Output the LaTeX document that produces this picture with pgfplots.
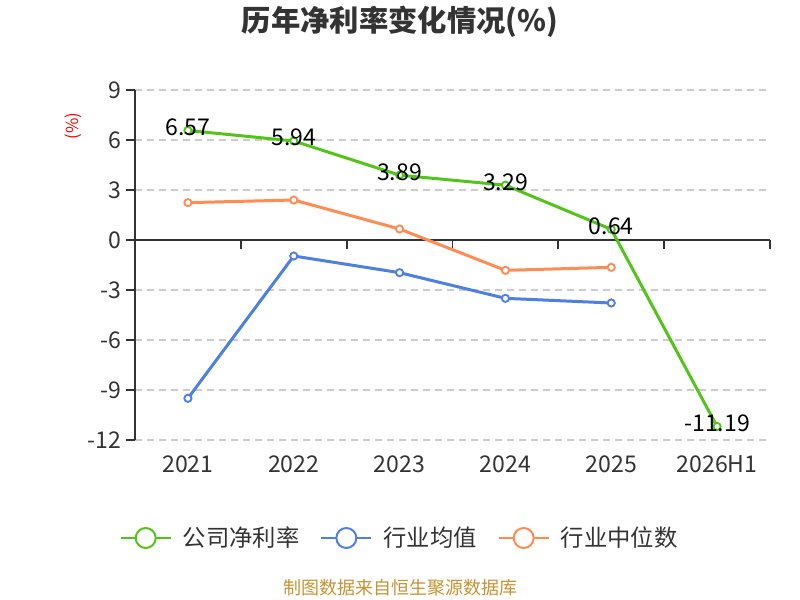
\documentclass[border=0pt]{standalone}
\usepackage{fontspec}
\setmainfont{Noto Sans CJK SC}
\usepackage{pgfplots}
\pgfplotsset{compat=1.18}
\definecolor{cgreen}{RGB}{82,196,26}
\definecolor{cblue}{RGB}{78,128,228}
\definecolor{corange}{RGB}{255,140,85}
\definecolor{ctext}{RGB}{51,51,51}
\definecolor{cgrid}{RGB}{204,204,204}
\definecolor{csrc}{RGB}{200,146,50}
\begin{document}
\begin{tikzpicture}[x=1pt,y=1pt]
\useasboundingbox (0,0) rectangle (600,450);
\node[font=\fontsize{22}{26}\selectfont\bfseries, text=ctext] at (300,433.5) {历年净利率变化情况(\%)};
\node[font=\fontsize{12.5}{15}\selectfont, text=red, rotate=90] at (54.75,355.5) {(\%)};
\node[font=\fontsize{13.5}{16}\selectfont, text=csrc] at (300,9) {制图数据来自恒生聚源数据库};
\begin{axis}[
  at={(101.25pt,120pt)}, anchor=south west,
  scale only axis, width=476.25pt, height=262.5pt,
  xmin=-0.5, xmax=5.5, ymin=-12, ymax=9,
  clip=false,
  axis x line*=bottom, axis y line*=left,
  x axis line style={draw=none},
  y axis line style={ctext, line width=1.4pt, -},
  xtick={0,1,2,3,4,5},
  xticklabels={2021,2022,2023,2024,2025,2026H1},
  ytick={-12,-9,-6,-3,0,3,6,9},
  yticklabels={-12,-9,-6,-3,0,3,6,9},
  xtick style={draw=none},
  ytick style={ctext, line width=1.4pt},
  tick align=outside, major tick length=7pt,
  ymajorgrids,
  grid style={cgrid, line width=1pt, dash pattern=on 5.25pt off 3.75pt},
  ticklabel style={font=\fontsize{17.3}{20}\selectfont, text=ctext},
  xticklabel style={anchor=center, yshift=-11pt},
  legend style={draw=none, fill=none, at={(0.415,-0.28)}, anchor=center,
    font=\fontsize{17.5}{20}\selectfont, text=ctext,
    nodes={inner sep=0pt},
    /tikz/every odd column/.append style={column sep=8.25pt},
    /tikz/every even column/.append style={column sep=15.75pt}},
  legend columns=3,
  legend image code/.code={
    \draw[#1, mark=none, line width=1.5pt] (0pt,0pt) -- (37.5pt,0pt);
    \draw[#1, mark=none, line width=1.5pt, fill=white] (18.75pt,0pt) circle (7.5pt);
  },
  every axis plot/.append style={line width=2.25pt, mark=*, mark size=2.7pt,
    mark options={fill=white, line width=1.4pt}},
]
\draw[ctext, line width=1.4pt] (axis cs:-0.5,0) -- (axis cs:5.5,0);
\pgfplotsinvokeforeach{0.5,1.5,2.5,3.5,4.5,5.5}{
  \draw[ctext, line width=1.4pt] (axis cs:#1,0) -- ([yshift=-7pt]axis cs:#1,0);
}
\addplot[color=cgreen, point meta=explicit symbolic,
  nodes near coords,
  nodes near coords style={font=\fontsize{17.3}{20}\selectfont, text=black, anchor=center, yshift=2.5pt}]
  coordinates {(0,6.57)[6.57] (1,5.94)[5.94] (2,3.89)[3.89] (3,3.29)[3.29] (4,0.64)[0.64] (5,-11.19)[-11.19]};
\addlegendentry{公司净利率}
\addplot[color=cblue]
  coordinates {(0,-9.50) (1,-0.96) (2,-1.96) (3,-3.50) (4,-3.78)};
\addlegendentry{行业均值}
\addplot[color=corange]
  coordinates {(0,2.24) (1,2.40) (2,0.66) (3,-1.82) (4,-1.64)};
\addlegendentry{行业中位数}
\end{axis}
\end{tikzpicture}
\end{document}
